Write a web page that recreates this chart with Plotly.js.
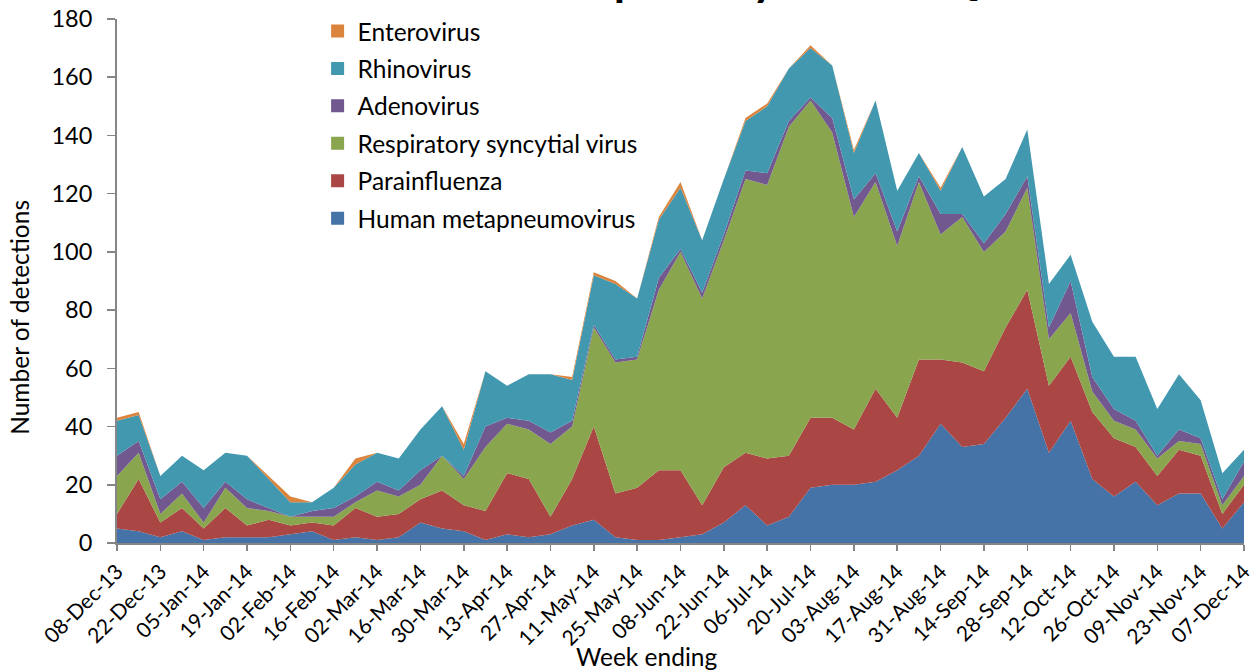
<!DOCTYPE html>
<html>
<head>
<meta charset="utf-8">
<script src="https://cdn.plot.ly/plotly-3.0.1.min.js"></script>
<style>html,body{margin:0;padding:0;background:#fff;}#chart{width:1256px;height:671px;}</style>
</head>
<body>
<div id="chart"></div>
<script>
const weeks = ["08-Dec-13","15-Dec-13","22-Dec-13","29-Dec-13","05-Jan-14","12-Jan-14","19-Jan-14","26-Jan-14","02-Feb-14","09-Feb-14","16-Feb-14","23-Feb-14","02-Mar-14","09-Mar-14","16-Mar-14","23-Mar-14","30-Mar-14","06-Apr-14","13-Apr-14","20-Apr-14","27-Apr-14","04-May-14","11-May-14","18-May-14","25-May-14","01-Jun-14","08-Jun-14","15-Jun-14","22-Jun-14","29-Jun-14","06-Jul-14","13-Jul-14","20-Jul-14","27-Jul-14","03-Aug-14","10-Aug-14","17-Aug-14","24-Aug-14","31-Aug-14","07-Sep-14","14-Sep-14","21-Sep-14","28-Sep-14","05-Oct-14","12-Oct-14","19-Oct-14","26-Oct-14","02-Nov-14","09-Nov-14","16-Nov-14","23-Nov-14","30-Nov-14","07-Dec-14"];
const tickWeeks = ["08-Dec-13","22-Dec-13","05-Jan-14","19-Jan-14","02-Feb-14","16-Feb-14","02-Mar-14","16-Mar-14","30-Mar-14","13-Apr-14","27-Apr-14","11-May-14","25-May-14","08-Jun-14","22-Jun-14","06-Jul-14","20-Jul-14","03-Aug-14","17-Aug-14","31-Aug-14","14-Sep-14","28-Sep-14","12-Oct-14","26-Oct-14","09-Nov-14","23-Nov-14","07-Dec-14"];
const hmpv = [5,4,2,4,1,2,2,2,3,4, 1,2,1,2,7,5,4,1,3,2, 3,6,8,2,1,1,2,3,7,13, 6,9,19,20,20,21,25,30,41,33, 34,43,53,31,42,22,16,21,13,17, 17,5,14];
const parainfluenza = [5,18,5,8,4,10,4,6,3,3, 5,10,8,8,8,13,9,10,21,20, 6,16,32,15,18,24,23,10,19,18, 23,21,24,23,19,32,18,33,22,29, 25,31,34,23,22,23,20,12,10,15, 13,5,6];
const rsv = [13,9,3,5,2,7,6,3,3,2, 3,2,9,6,5,12,9,22,17,17, 25,18,34,45,44,62,75,71,78,94, 94,113,109,98,73,71,59,61,43,50, 41,33,35,16,15,7,6,6,6,3, 4,3,3];
const adenovirus = [7,4,5,4,5,2,3,1,0,2, 3,2,3,2,5,0,1,7,2,3, 4,2,1,1,1,4,1,2,2,3, 4,2,1,5,6,3,5,2,7,1, 3,6,4,4,11,5,4,3,1,4, 2,2,5];
const rhinovirus = [12,9,8,9,13,10,15,10,5,3, 7,11,10,11,14,17,9,19,11,16, 20,14,17,26,20,20,21,18,19,17, 23,18,17,18,16,25,14,8,8,23, 16,12,16,15,9,19,18,22,16,19, 13,9,4];
const enterovirus = [1,1,0,0,0,0,0,1,2,0, 0,2,0,0,0,0,2,0,0,0, 0,1,1,1,0,1,2,0,0,1, 1,0,1,0,1,0,0,0,1,0, 0,0,0,0,0,0,0,0,0,0, 0,0,0];

const seriesNames = ["Human metapneumovirus","Parainfluenza","Respiratory syncytial virus","Adenovirus","Rhinovirus","Enterovirus"];
const seriesValues = [hmpv, parainfluenza, rsv, adenovirus, rhinovirus, enterovirus];
const seriesColors = ["#4572A7","#AA4643","#89A54E","#71588F","#4198AF","#DB843D"];

const FONT = "Lato, 'Open Sans', sans-serif";
const traces = [];
seriesNames.forEach((nm, i) => {
  traces.push({
    type: "scatter", x: weeks, y: seriesValues[i], name: nm,
    stackgroup: "one", mode: "lines", line: {width: 0, color: seriesColors[i]},
    fillcolor: seriesColors[i], showlegend: false, hoverinfo: "x+y+name"
  });
});
// legend entries, top to bottom: Enterovirus ... Human metapneumovirus
for (let i = seriesNames.length - 1; i >= 0; i--) {
  traces.push({
    type: "scatter", x: [null], y: [null], name: seriesNames[i], mode: "markers",
    marker: {symbol: "square", size: 13, color: seriesColors[i]},
    legendgroup: "g" + i, showlegend: true, hoverinfo: "skip"
  });
}

const axisGray = "#868686";
const layout = {
  width: 1256, height: 671,
  margin: {l: 117, r: 12, t: 19, b: 128, autoexpand: false},
  paper_bgcolor: "#ffffff", plot_bgcolor: "#ffffff",
  font: {family: FONT, size: 24, color: "#000"},
  showlegend: true,
  legend: {
    xref: "paper", yref: "container",
    x: 0.178, y: 0.9873, xanchor: "left", yanchor: "top",
    traceorder: "grouped", tracegroupgap: 2.6,
    font: {family: FONT, size: 24.5, color: "#000"},
    bgcolor: "rgba(0,0,0,0)", itemwidth: 30
  },
  xaxis: {
    type: "category", range: [0, weeks.length - 1],
    tickmode: "array", tickvals: tickWeeks, ticktext: tickWeeks,
    tickangle: -45, tickfont: {family: FONT, size: 21, color: "#000"},
    ticks: "outside", ticklen: 6, tickcolor: axisGray, tickwidth: 1.5,
    showline: true, linecolor: axisGray, linewidth: 2,
    showgrid: false, zeroline: false, fixedrange: true
  },
  yaxis: {
    range: [0, 180], dtick: 20, tick0: 0,
    tickfont: {family: FONT, size: 23.5, color: "#000"},
    ticks: "outside", ticklen: 8, tickcolor: axisGray, tickwidth: 1.5,
    ticklabelstandoff: 10,
    showline: true, linecolor: axisGray, linewidth: 2,
    showgrid: false, zeroline: false, fixedrange: true
  },
  annotations: [
    {text: "Respiratory viruses Queensland", xref: "paper", yref: "paper",
     x: 0.3745, y: 1.080, xanchor: "left", yanchor: "middle", showarrow: false,
     font: {family: FONT, size: 46, color: "#000", weight: "bold"}},
    {text: "Number of detections", xref: "paper", yref: "paper",
     x: -0.0861, y: 0.4316, xanchor: "center", yanchor: "middle", textangle: -90, showarrow: false,
     font: {family: FONT, size: 24.5, color: "#000"}},
    {text: "Week ending", xref: "paper", yref: "paper",
     x: 0.470, y: -0.217, xanchor: "center", yanchor: "middle", showarrow: false,
     font: {family: FONT, size: 24.5, color: "#000"}}
  ]
};
Plotly.newPlot("chart", traces, layout, {displayModeBar: false, staticPlot: true});
</script>
</body>
</html>
